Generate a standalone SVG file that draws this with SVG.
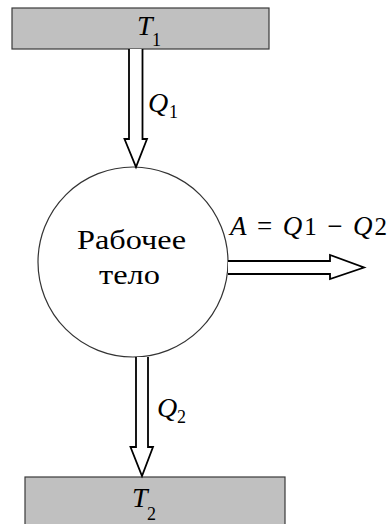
<svg xmlns="http://www.w3.org/2000/svg" width="388" height="524" viewBox="0 0 388 524">
<rect width="388" height="524" fill="#fff"/>
<g id="hot">
<rect x="12" y="8" width="257" height="41" fill="#c0c0c0" stroke="#3a3a3a" stroke-width="1.2"/>
<text x="137" y="35" font-family="Liberation Serif" font-size="28" font-style="italic">T</text>
<text x="152" y="46" font-family="Liberation Serif" font-size="18">1</text>
</g>
<g id="cold">
<rect x="25" y="477" width="260" height="50" fill="#c0c0c0" stroke="#3a3a3a" stroke-width="1.2"/>
<text x="132" y="507" font-family="Liberation Serif" font-size="28" font-style="italic">T</text>
<text x="147" y="520" font-family="Liberation Serif" font-size="18">2</text>
</g>
<g id="body">
<circle cx="133" cy="262" r="95" fill="#fff" stroke="#333" stroke-width="1.2"/>
<text x="77" y="249" font-family="Liberation Serif" font-size="27" textLength="109" lengthAdjust="spacingAndGlyphs">Рабочее</text>
<text x="99" y="284" font-family="Liberation Serif" font-size="27" textLength="61" lengthAdjust="spacingAndGlyphs">тело</text>
</g>
<g id="connectors" fill="#fff" stroke="#000" stroke-width="1.8">
<path d="M129,49 V139 H124.5 L136,167 L147,139 H142.5 V49"/>
<path d="M136,357 V447 H130.5 L142,476 L153,447 H148 V357"/>
<path d="M228,261 H330 V255 L364,267.5 L330,279 V274 H228"/>
</g>
<g id="labels" fill="#000">
<text x="148" y="112" font-family="Liberation Serif" font-size="28" font-style="italic">Q</text>
<text x="169" y="118" font-family="Liberation Serif" font-size="18">1</text>
<text x="157" y="417" font-family="Liberation Serif" font-size="28" font-style="italic">Q</text>
<text x="177" y="423" font-family="Liberation Serif" font-size="18">2</text>
<text x="230" y="235" font-family="Liberation Serif" font-size="27" textLength="157" lengthAdjust="spacing"><tspan font-style="italic">A</tspan> = <tspan font-style="italic">Q</tspan><tspan font-size="25">1</tspan> − <tspan font-style="italic">Q</tspan><tspan font-size="25">2</tspan></text>
</g>
</svg>
